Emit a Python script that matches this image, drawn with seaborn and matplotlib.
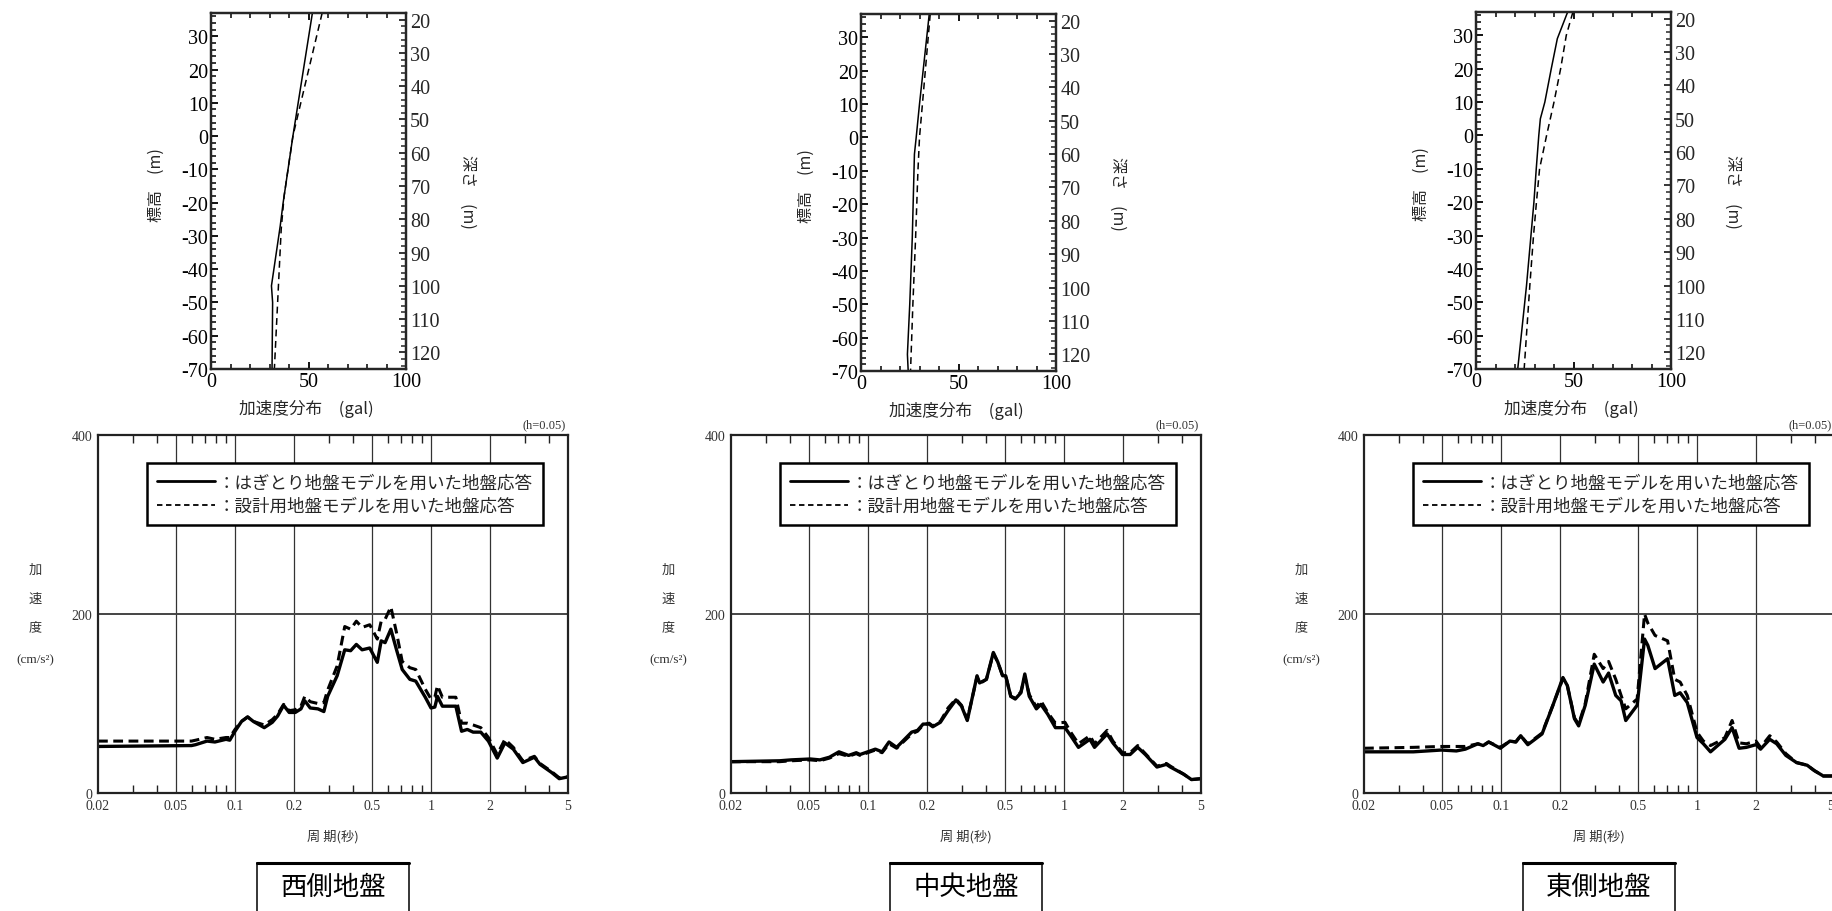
import numpy as np
import pandas as pd
import matplotlib
matplotlib.use("Agg")
import matplotlib.pyplot as plt
import seaborn as sns
from matplotlib.ticker import MultipleLocator, FixedLocator, NullFormatter, FixedFormatter
from matplotlib.lines import Line2D
from matplotlib.patches import Rectangle

sns.set_style("white")
plt.rcParams['font.family'] = ['Noto Sans CJK JP', 'DejaVu Sans']
plt.rcParams['axes.unicode_minus'] = False

# ---------------- data: acceleration profiles (top panels) ----------------
west_solid_acc = [52, 42, 37, 35.5, 31, 31.6, 31.3]
west_solid_el = [37, 0, -20, -27, -45, -50, -70]
west_dash_acc = [57, 50.1, 42, 37.5, 36, 35, 33.5, 32.5]
west_dash_el = [37, 20, 0, -18, -28, -40, -58, -70]

center_solid_acc = [35, 30, 28.3, 27.4, 26.3, 25.0, 23.8, 24.2]
center_solid_el = [37, 10, 0, -5, -30, -50, -65, -70]
center_dash_acc = [35.5, 31.5, 30, 29.2, 28, 26.6, 25.4]
center_dash_el = [37, 10, 0, -10, -30, -50, -70]

east_solid_acc = [47, 41.7, 38.6, 35.3, 33, 32.2, 30.9, 29.7, 25.9, 21.4]
east_solid_el = [37, 29, 20, 10, 5, 0, -10, -20, -45, -70]
east_dash_acc = [49.7, 46.3, 43.4, 40, 36.2, 32.6, 31, 29.5, 27.6, 24.7]
east_dash_el = [37, 30, 20, 10, 0, -10, -20, -30, -45, -70]

# ---------------- data: response spectra (bottom panels) ----------------
west_T = [0.02, 0.06, 0.063, 0.072, 0.079, 0.09, 0.094, 0.1, 0.108, 0.116,
          0.124, 0.141, 0.155, 0.165, 0.177, 0.189, 0.203, 0.217, 0.227, 0.242,
          0.265, 0.284, 0.297, 0.332, 0.363, 0.389, 0.416, 0.445, 0.487, 0.532,
          0.557, 0.583, 0.624, 0.667, 0.713, 0.78, 0.836, 0.935, 1.0, 1.046,
          1.079, 1.143, 1.224, 1.339, 1.432, 1.532, 1.64, 1.795, 1.963, 2.177,
          2.382, 2.63, 2.94, 3.37, 3.6, 4.12, 4.51, 5.0]
west_solid = [52, 53, 54, 58, 57, 60, 59, 69, 80, 85,
              80, 73, 79, 86, 98, 90, 90, 94, 103, 95,
              94, 91, 108, 131, 160, 159, 166, 160, 162, 146,
              170, 168, 183, 160, 138, 127, 125, 107, 95, 96,
              108, 97, 97, 97, 69, 71, 68, 68, 58, 39,
              56, 49, 34, 40, 32, 23, 16, 18]
west_dash = [58, 58, 59, 62, 60, 62, 62, 71, 80, 85,
             80, 76, 82, 88, 99, 92, 93, 97, 108, 102,
             100, 101, 115, 142, 186, 183, 192, 185, 188, 172,
             192, 194, 208, 179, 147, 140, 138, 116, 105, 107,
             120, 107, 107, 107, 78, 78, 76, 73, 62, 43,
             60, 51, 36, 41, 33, 24, 17, 18]

center_T = [0.02, 0.0354, 0.0405, 0.0508, 0.0568, 0.0636, 0.0711, 0.0796, 0.0871, 0.0911,
            0.0997, 0.109, 0.118, 0.128, 0.14, 0.167, 0.179, 0.191, 0.205, 0.214,
            0.234, 0.256, 0.281, 0.3, 0.321, 0.36, 0.371, 0.402, 0.436, 0.46,
            0.486, 0.504, 0.535, 0.564, 0.603, 0.631, 0.665, 0.723, 0.762, 0.826,
            0.904, 1.012, 1.082, 1.185, 1.355, 1.431, 1.66, 1.776, 1.988, 2.174,
            2.378, 2.6, 2.98, 3.33, 3.49, 4.08, 4.47, 5.0]
center_solid = [35, 36, 37, 38, 37, 40, 46, 42, 45, 43,
                46, 49, 46, 57, 51, 68, 70, 77, 77, 74,
                79, 92, 104, 97, 81, 131, 123, 127, 157, 146,
                131, 131, 108, 105, 112, 133, 108, 94, 99, 88,
                73, 73, 64, 51, 60, 51, 66, 56, 43, 43,
                51, 43, 29, 32, 29, 21, 15, 16]
center_dash = [35, 35, 36, 37, 36, 39, 44, 41, 44, 42,
               45, 48, 45, 55, 50, 66, 69, 76, 78, 75,
               80, 95, 105, 98, 82, 130, 122, 127, 156, 146,
               131, 131, 108, 106, 113, 130, 110, 96, 103, 90,
               78, 79, 68, 55, 64, 55, 70, 58, 45, 45,
               53, 44, 30, 33, 30, 21, 15, 16]

east_T = [0.02, 0.0357, 0.0496, 0.0592, 0.0658, 0.0762, 0.0811, 0.0865, 0.0993, 0.111,
          0.119, 0.126, 0.137, 0.149, 0.162, 0.184, 0.207, 0.218, 0.237, 0.249,
          0.269, 0.299, 0.332, 0.354, 0.385, 0.41, 0.433, 0.495, 0.54, 0.561,
          0.611, 0.708, 0.77, 0.82, 0.892, 1.0, 1.078, 1.172, 1.275, 1.388,
          1.51, 1.64, 1.786, 2.0, 2.11, 2.35, 2.55, 2.84, 3.22, 3.65,
          3.97, 4.41, 5.0]
east_solid = [46, 46, 48, 47, 49, 55, 53, 57, 50, 58,
              57, 64, 54, 60, 66, 98, 129, 120, 83, 75,
              98, 144, 124, 134, 109, 103, 81, 98, 172, 165,
              139, 150, 109, 112, 101, 62, 55, 46, 53, 60,
              73, 50, 51, 54, 49, 60, 55, 42, 34, 31,
              25, 19, 19]
east_dash = [50, 51, 52, 52, 52, 55, 53, 57, 51, 58,
             57, 64, 55, 61, 67, 98, 128, 120, 84, 77,
             100, 155, 139, 147, 127, 109, 94, 105, 200, 190,
             176, 170, 127, 124, 109, 68, 58, 53, 57, 62,
             81, 56, 55, 58, 51, 64, 57, 44, 34, 31,
             25, 19, 19]

site_names = ["西側地盤", "中央地盤", "東側地盤"]
legend_labels = ["：はぎとり地盤モデルを用いた地盤応答", "：設計用地盤モデルを用いた地盤応答"]
period_ticks = [0.02, 0.05, 0.1, 0.2, 0.5, 1, 2, 5]
period_ticklabels = ["0.02", "0.05", "0.1", "0.2", "0.5", "1", "2", "5"]
period_minor = [0.03, 0.04, 0.06, 0.07, 0.08, 0.09, 0.3, 0.4, 0.6, 0.7, 0.8, 0.9, 3, 4]

profiles = [
    (west_solid_acc, west_solid_el, west_dash_acc, west_dash_el),
    (center_solid_acc, center_solid_el, center_dash_acc, center_dash_el),
    (east_solid_acc, east_solid_el, east_dash_acc, east_dash_el),
]
spectra = [
    (west_T, west_solid, west_dash),
    (center_T, center_solid, center_dash),
    (east_T, east_solid, east_dash),
]

W, H = 1832, 912
fig = plt.figure(figsize=(W / 100, H / 100), dpi=100)


def frac(x0, y0, x1, y1):
    return [x0 / W, 1 - y1 / H, (x1 - x0) / W, (y1 - y0) / H]


top_boxes = [frac(211, 14, 406, 370), frac(861, 15, 1056, 372), frac(1476, 13, 1671, 370)]
bot_boxes = [frac(98, 436, 568, 794), frac(731, 436, 1201, 794), frac(1364, 436, 1834, 794)]

SERIF = ['Liberation Serif', 'DejaVu Serif']
CJK = ['Noto Sans CJK JP', 'DejaVu Sans']

for i in range(3):
    # ---------------- top profile panel ----------------
    sa, se, da, de = profiles[i]
    ax = fig.add_axes(top_boxes[i])
    sns.lineplot(data=pd.DataFrame({"acc": sa, "el": se}), x="acc", y="el",
                 sort=False, estimator=None, color="black", linewidth=1.1, ax=ax)
    sns.lineplot(data=pd.DataFrame({"acc": da, "el": de}), x="acc", y="el",
                 sort=False, estimator=None, color="black", linewidth=1.1,
                 linestyle="--", ax=ax)
    ax.lines[-1].set_dashes((4.5, 3))
    ax.set_xlim(0, 100)
    ax.set_ylim(-70, 37)
    ax.xaxis.set_major_locator(FixedLocator([0, 50, 100]))
    ax.xaxis.set_minor_locator(MultipleLocator(10))
    ax.yaxis.set_major_locator(MultipleLocator(10))
    ax.yaxis.set_minor_locator(MultipleLocator(2))
    ax.tick_params(axis='both', which='both', direction='in', colors='black')
    ax.tick_params(axis='x', which='both', top=True, bottom=True)
    ax.tick_params(axis='y', which='both', left=True, right=False)
    ax.tick_params(which='major', length=5, width=1.3, labelsize=14.5, pad=2)
    ax.tick_params(which='minor', length=3.5, width=1.1)
    for lab in ax.get_xticklabels() + ax.get_yticklabels():
        lab.set_family(SERIF)
    for sp in ax.spines.values():
        sp.set_linewidth(1.6)
        sp.set_color('black')
    ax.set_xlabel("加速度分布　(gal)", fontsize=12, family=CJK)
    ax.xaxis.set_label_coords(0.49, -0.085)
    ax.set_ylabel("標高　(m)", fontsize=11.5, family=CJK)
    ax.yaxis.set_label_coords(-0.235, 0.52)

    ax2 = ax.twinx()
    ax2.set_ylim(125, 18)
    ax2.yaxis.set_major_locator(MultipleLocator(10))
    ax2.yaxis.set_minor_locator(MultipleLocator(2))
    ax2.set_yticks(list(range(20, 121, 10)))
    ax2.tick_params(axis='y', which='both', direction='in', right=True, left=False)
    ax2.tick_params(which='major', length=5, width=1.3, labelsize=14.5, pad=3)
    ax2.tick_params(which='minor', length=3.5, width=1.1)
    for lab in ax2.get_yticklabels():
        lab.set_family(SERIF)
    for sp in ax2.spines.values():
        sp.set_linewidth(1.6)
    ax2.set_ylabel("深さ　(m)", fontsize=11.5, family=CJK, rotation=270, va='center')
    ax2.yaxis.set_label_coords(1.315, 0.5)

    # ---------------- bottom spectrum panel ----------------
    T, s_vals, d_vals = spectra[i]
    bx = fig.add_axes(bot_boxes[i])
    sns.lineplot(data=pd.DataFrame({"T": T, "A": s_vals}), x="T", y="A",
                 estimator=None, color="black", linewidth=2.4, ax=bx)
    sns.lineplot(data=pd.DataFrame({"T": T, "A": d_vals}), x="T", y="A",
                 estimator=None, color="black", linewidth=2.2, linestyle="--", ax=bx)
    bx.lines[-1].set_dashes((3.2, 1.8))
    bx.set_xscale("log")
    bx.set_xlim(0.02, 5)
    bx.set_ylim(0, 400)
    bx.xaxis.set_major_locator(FixedLocator(period_ticks))
    bx.xaxis.set_major_formatter(FixedFormatter(period_ticklabels))
    bx.xaxis.set_minor_locator(FixedLocator(period_minor))
    bx.xaxis.set_minor_formatter(NullFormatter())
    bx.yaxis.set_major_locator(FixedLocator([0, 200, 400]))
    bx.yaxis.set_minor_locator(FixedLocator([]))
    bx.tick_params(axis='x', which='minor', direction='in', top=True, bottom=True,
                   length=6, width=1.0, color='#222222')
    bx.tick_params(axis='both', which='major', length=0, labelsize=10, pad=4,
                   labelcolor='#333333')
    xlabs = bx.get_xticklabels()
    for lab in xlabs + bx.get_yticklabels():
        lab.set_family(SERIF)
    if i == 2:
        xlabs[-1].set_horizontalalignment('right')
    for xv in [0.05, 0.1, 0.2, 0.5, 1, 2]:
        bx.axvline(xv, color='#333333', linewidth=0.9, zorder=0)
    bx.axhline(200, color='#444444', linewidth=1.4, zorder=0)
    for sp in bx.spines.values():
        sp.set_linewidth(1.6)
        sp.set_color('#222222')
    bx.set_xlabel("")
    bx.set_ylabel("")

    handles = [Line2D([], [], color='black', linewidth=2.0),
               Line2D([], [], color='black', linewidth=1.3, dashes=(3, 2))]
    leg = bx.legend(handles, legend_labels, loc='upper left',
                    bbox_to_anchor=(0.104, 0.922), handlelength=3.3,
                    handletextpad=0.15, borderpad=0.6, labelspacing=0.3,
                    fancybox=False, framealpha=1, edgecolor='black', frameon=True,
                    borderaxespad=0.0, prop={'family': CJK, 'size': 12.6})
    leg.get_frame().set_linewidth(1.8)

    bx.text(0.996, 1.012, "(h=0.05)", transform=bx.transAxes, ha='right', va='bottom',
            fontsize=9, family=SERIF, color='#333333')
    for ch, yy in zip(["加", "速", "度"], [0.626, 0.545, 0.464]):
        bx.text(-0.134, yy, ch, transform=bx.transAxes, ha='center', va='center',
                fontsize=9.5, family=CJK, color='#333333')
    bx.text(-0.134, 0.374, "(cm/s²)", transform=bx.transAxes, ha='center', va='center',
            fontsize=9.5, family=SERIF, color='#333333')
    bx.text(0.5, -0.12, "周 期(秒)", transform=bx.transAxes, ha='center', va='center',
            fontsize=9.5, family=CJK, color='#333333')

    # title box
    bw = 152 / 470
    rect = Rectangle((0.5 - bw / 2, -0.37), bw, 0.37 - 0.196, transform=bx.transAxes,
                     fill=False, edgecolor='black', linewidth=1.1, clip_on=False)
    bx.add_patch(rect)
    bx.plot([0.5 - bw / 2, 0.5 + bw / 2], [-0.196, -0.196], transform=bx.transAxes,
            color='black', linewidth=2.2, clip_on=False)
    bx.text(0.5, -0.262, site_names[i], transform=bx.transAxes, ha='center', va='center',
            fontsize=19, family=CJK, color='black')

fig.savefig("out.png", dpi=100)
